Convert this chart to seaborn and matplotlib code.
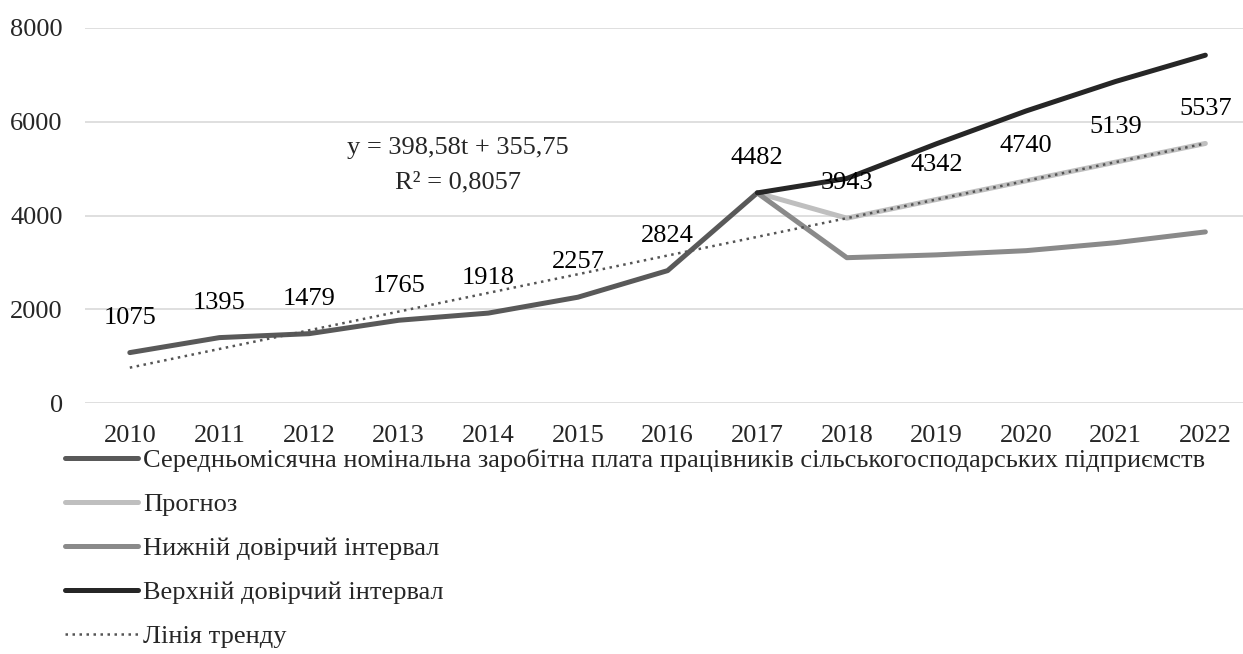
import pandas as pd
import numpy as np
import matplotlib.pyplot as plt
import seaborn as sns

years = list(range(2010, 2023))
actual_years = years[:8]
actual = [1075, 1395, 1479, 1765, 1918, 2257, 2824, 4482]
fc_years = years[7:]
forecast = [4482, 3943, 4342, 4740, 5139, 5537]
lower = [4482, 3100, 3160, 3250, 3420, 3650]
upper = [4482, 4790, 5530, 6230, 6860, 7420]
trend = [754, 1153, 1551, 1950, 2349, 2747, 3146, 3544, 3943, 4342, 4740, 5139, 5537]

labels = ["Середньомісячна номінальна заробітна плата працівників сільськогосподарських підприємств",
          "Прогноз", "Нижній довірчий інтервал", "Верхній довірчий інтервал", "Лінія тренду"]

sns.set_theme(style="white")
plt.rcParams["font.family"] = ["Liberation Serif", "DejaVu Serif"]
fs = 19

fig = plt.figure(figsize=(12.43, 6.54), dpi=100)
ax = fig.add_axes([85 / 1243, 1 - 403 / 654, 1 - 85 / 1243, (403 - 28) / 654])

df_a = pd.DataFrame({"year": actual_years, "value": actual})
df_f = pd.DataFrame({"year": fc_years, "value": forecast})
df_l = pd.DataFrame({"year": fc_years, "value": lower})
df_u = pd.DataFrame({"year": fc_years, "value": upper})
df_t = pd.DataFrame({"year": years, "value": trend})

lw = 3.6
sns.lineplot(data=df_a, x="year", y="value", color="#595959", lw=lw, ax=ax, label=labels[0])
sns.lineplot(data=df_f, x="year", y="value", color="#bfbfbf", lw=lw, ax=ax, label=labels[1])
sns.lineplot(data=df_l, x="year", y="value", color="#8a8a8a", lw=lw, ax=ax, label=labels[2])
sns.lineplot(data=df_u, x="year", y="value", color="#262626", lw=lw, ax=ax, label=labels[3])
sns.lineplot(data=df_t, x="year", y="value", color="#555555", lw=1.8, ls=(0, (1, 1.8)), ax=ax, label=labels[4])

for x, v in zip(actual_years, actual):
    ax.annotate(str(v), (x, v), xytext=(0, 25), textcoords="offset points",
                ha="center", va="center", fontsize=fs, color="black")
for x, v in zip(fc_years[1:], forecast[1:]):
    ax.annotate(str(v), (x, v), xytext=(0, 25), textcoords="offset points",
                ha="center", va="center", fontsize=fs, color="black")

ax.text(2013.66, 5440, "y = 398,58t + 355,75", ha="center", va="center", fontsize=fs)
ax.text(2013.66, 4700, "R² = 0,8057", ha="center", va="center", fontsize=fs)

ax.set_xlim(2009.5, 2022.42)
ax.set_ylim(0, 8000)
ax.set_yticks([0, 2000, 4000, 6000, 8000])
ax.set_xticks(years)
ax.grid(axis="y", color="#d9d9d9", lw=1.2)
ax.grid(axis="x", visible=False)
for s in ax.spines.values():
    s.set_visible(False)
ax.tick_params(axis="x", labelsize=fs, pad=16, length=0)
ax.tick_params(axis="y", labelsize=fs, pad=16, length=0)
ax.set_xlabel("")
ax.set_ylabel("")

handles, labs = ax.get_legend_handles_labels()
ax.legend_.remove()
fig.legend(handles, labs, loc="upper left", bbox_to_anchor=(0.052, 0.314), frameon=False,
           fontsize=fs, handlelength=2.77, handletextpad=0.2, labelspacing=0.78,
           borderaxespad=0, borderpad=0)

fig.savefig("out.png", dpi=100)
